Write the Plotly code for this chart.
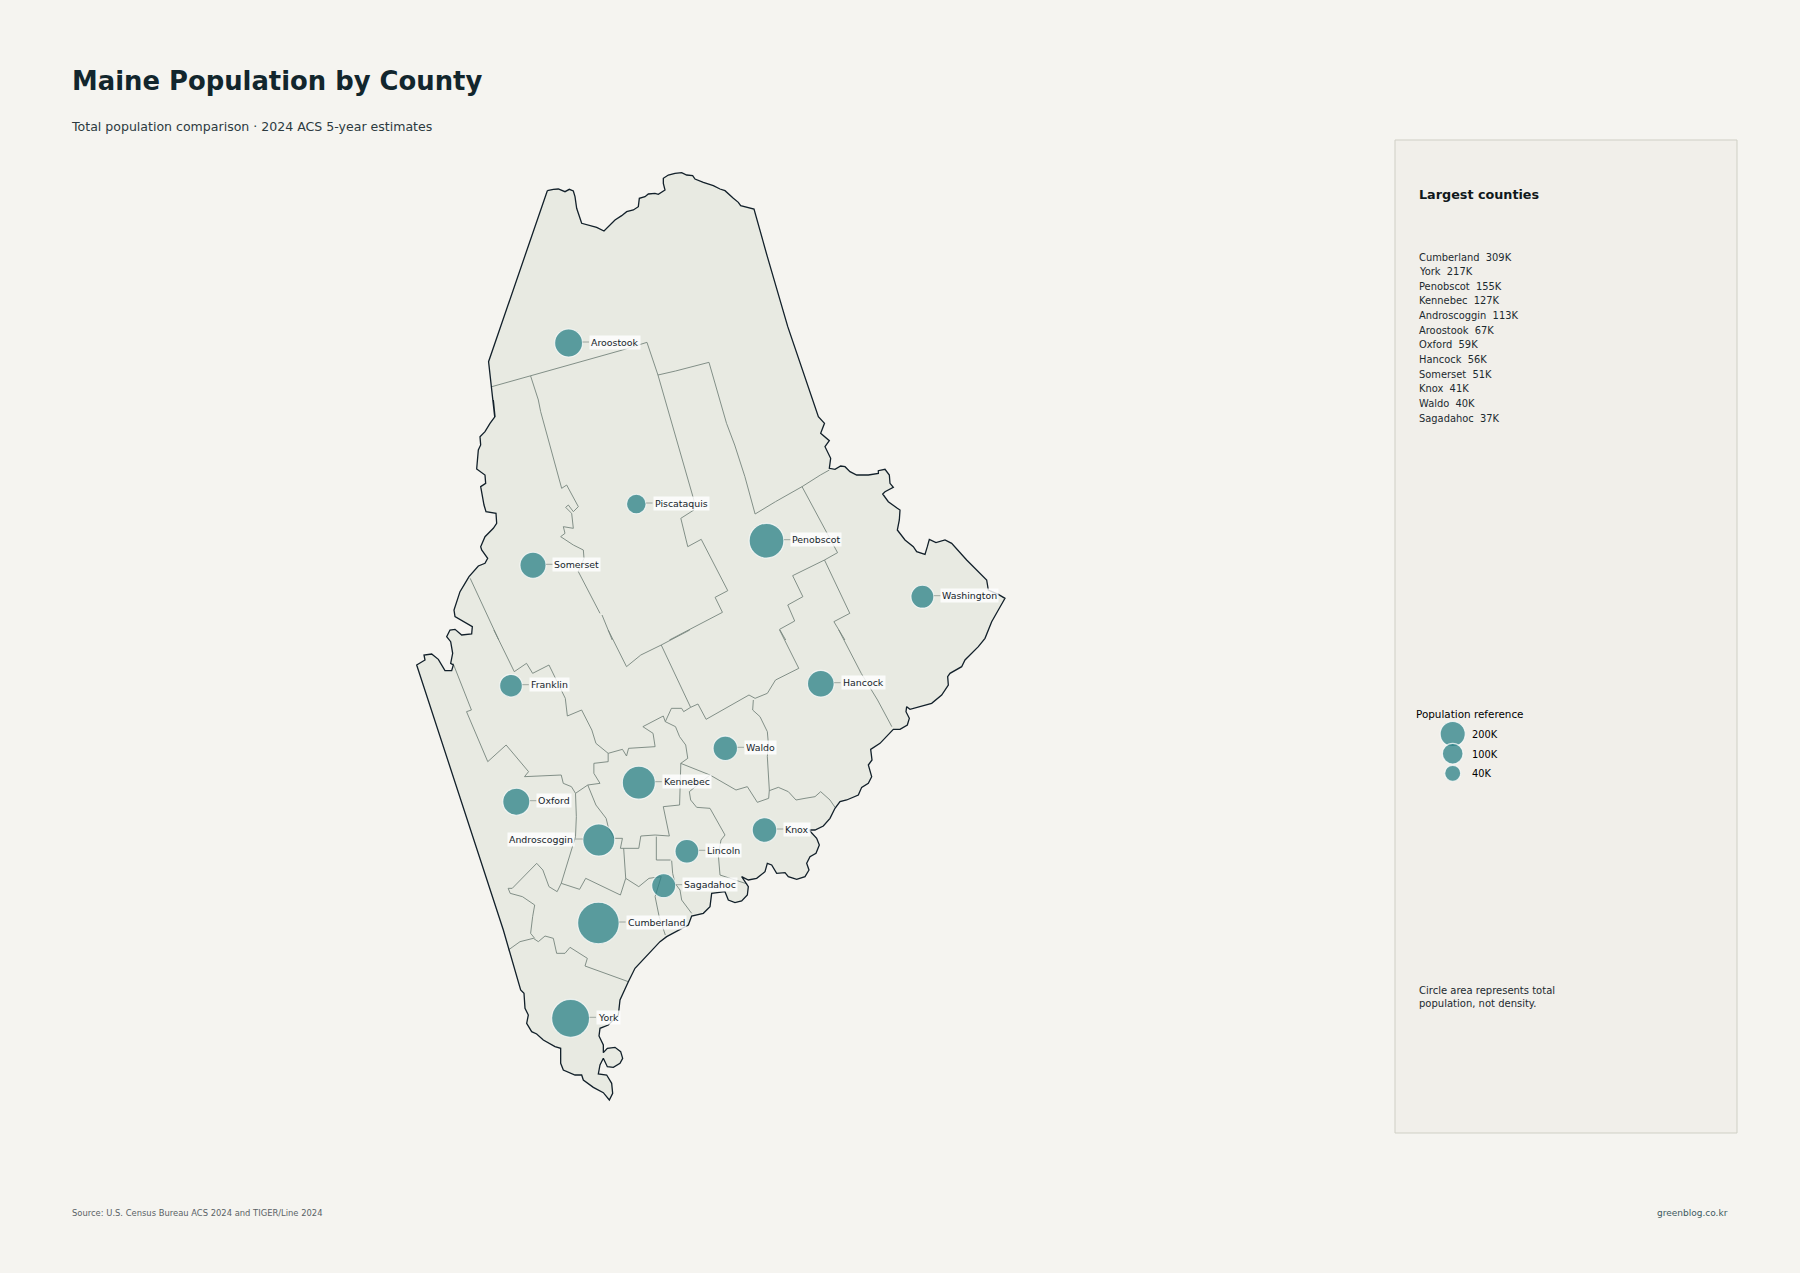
import plotly.graph_objects as go

counties = ["Aroostook", "Piscataquis", "Penobscot", "Somerset", "Washington", "Franklin", "Hancock", "Waldo",
            "Kennebec", "Oxford", "Androscoggin", "Knox", "Lincoln", "Sagadahoc", "Cumberland", "York"]
population_k = [67, 17, 155, 51, 31, 30, 56, 40, 127, 59, 113, 41, 36, 37, 309, 217]
centroid_x = [568.6, 636.3, 766.5, 533, 922.4, 511, 820.8, 725.3, 638.8, 516.3, 598.8, 764.5, 686.9, 663.7, 598.4, 570.6]
centroid_y = [343, 504, 540.7, 565.3, 596.7, 685.7, 683.7, 748.3, 782.7, 801.7, 840, 830, 851.3, 885.7, 923, 1018.3]

top_names = ["Cumberland", "York", "Penobscot", "Kennebec", "Androscoggin", "Aroostook", "Oxford", "Hancock",
             "Somerset", "Knox", "Waldo", "Sagadahoc"]
top_values = ["309K", "217K", "155K", "127K", "113K", "67K", "59K", "56K", "51K", "41K", "40K", "37K"]

ref_k = [200, 100, 40]
ref_labels = ["200K", "100K", "40K"]
ref_x = [1452.7, 1452.7, 1452.7]
ref_y = [734, 753.7, 773.3]

coast_top = [
    (52, 77), (70, 73), (85, 72), (105, 80), (118, 73), (130, 78), (135, 95), (140, 130), (155, 175), (180, 182),
    (200, 187), (222, 198), (240, 180), (255, 165), (275, 152), (290, 140), (310, 135), (325, 125), (328, 100), (345, 95),
    (355, 87), (375, 85), (385, 88), (405, 75), (400, 55), (400, 40), (415, 30), (435, 25), (455, 23), (470, 30), (488, 32),
    (495, 42), (520, 52), (550, 62), (570, 72), (585, 77), (610, 100), (625, 112), (632, 122), (672, 132),
]
line_ne = [(900, 290), (950, 500), (1025, 770), (1040, 790)]
coast_east = [
    (32, 10), (58, 32), (45, 50), (62, 85), (58, 115), (75, 118), (92, 108), (105, 110), (120, 125), (140, 135), (175, 135),
    (205, 130), (205, 122), (225, 118), (238, 135), (240, 160), (250, 172), (225, 185), (218, 192), (235, 215), (262, 235),
    (270, 240), (268, 270), (262, 300), (285, 330), (310, 350), (320, 365), (345, 373), (352, 350), (358, 328), (378, 338),
    (405, 330), (425, 340), (470, 390), (530, 450), (535, 480), (565, 493), (585, 505), (565, 540), (545, 575), (525, 625),
    (505, 650), (465, 690), (455, 710), (420, 730), (413, 740), (415, 765), (395, 795), (365, 820), (330, 830), (300, 838),
    (290, 830), (288, 845), (298, 865), (292, 885), (270, 898), (250, 898),
]
coast_mid = [
    (660, 130), (632, 148), (636, 180), (625, 195), (635, 230), (625, 250), (605, 262), (595, 285), (560, 300), (540, 305),
    (525, 325), (510, 355), (490, 378), (465, 390), (447, 390), (470, 415), (478, 435), (468, 460), (450, 470), (440, 490),
    (447, 510), (435, 530), (410, 538), (385, 530), (375, 518), (350, 520), (335, 495), (322, 490), (315, 515), (290, 535),
    (265, 540), (245, 530), (265, 560), (262, 585), (245, 603), (225, 608), (205, 600), (195, 575), (155, 580), (150, 620),
    (130, 640), (95, 648), (85, 675), (50, 695), (20, 710),
]
coast_south = [
    (480, 35), (405, 115), (385, 155), (360, 210), (355, 255), (325, 285), (300, 295), (297, 318), (310, 345), (310, 368),
    (322, 355), (345, 352), (362, 365), (368, 385), (360, 400), (340, 412), (322, 410), (310, 385), (300, 405), (295, 432),
    (320, 435), (335, 460), (338, 490), (328, 510), (310, 488), (280, 472), (250, 450), (245, 435), (225, 435), (190, 420),
    (182, 400), (182, 355), (165, 350), (130, 330), (110, 312), (95, 305), (80, 280), (85, 255), (75, 235), (72, 190),
    (62, 180), (10, 0),
]
river_west = [
    (20, 795), (45, 780), (42, 765), (65, 762), (85, 778), (95, 795), (105, 812), (125, 812), (130, 795), (122, 790),
    (128, 760), (122, 725), (110, 710), (120, 690), (135, 688), (155, 705), (185, 702), (187, 680), (170, 670), (150, 660),
    (135, 650), (132, 630), (140, 605), (150, 575), (165, 550), (177, 530), (205, 498), (225, 490), (233, 475), (215, 450),
    (212, 440), (225, 410), (250, 385), (260, 370), (258, 340), (228, 335), (222, 315), (215, 280), (212, 260), (227, 250),
    (225, 225), (200, 207), (205, 150), (212, 135), (210, 110), (225, 95), (240, 70), (255, 50), (250, 0),
]
line_nw = [(232, 770), (217, 605)]

borders_north = [
    [(225, 680), (320, 648), (545, 570), (605, 547), (632, 645), (675, 633), (757, 607), (800, 790), (820, 855), (845, 950),
     (870, 1062), (920, 1025), (985, 980), (1030, 945), (1052, 930)],
    [(632, 645), (720, 1020), (720, 1050), (688, 1075), (705, 1160), (738, 1138), (803, 1292), (772, 1312), (790, 1357),
     (660, 1440)],
    [(985, 980), (1072, 1178), (1040, 1200), (962, 1247), (987, 1310), (950, 1335), (967, 1383), (930, 1408), (945, 1440)],
    [(1040, 1200), (1102, 1360), (1063, 1385), (1090, 1440)],
    [(172, 1255), (203, 1335), (242, 1440)],
    [(320, 648), (339, 720)],
    [(495, 1365), (520, 1440)],
]
border_piscataquis_west = [
    (385, 0), (392, 35), (455, 265), (470, 255), (505, 320), (490, 335), (475, 315), (467, 322), (485, 340), (490, 385),
    (460, 380), (465, 400), (452, 410), (490, 435), (520, 450), (522, 475), (505, 515), (570, 640),
]
borders_south = [
    [(510, 0), (555, 110), (590, 75), (640, 45), (710, 0)],
    [(930, 0), (977, 115), (920, 150), (900, 190), (870, 205), (855, 195), (750, 268), (730, 222), (712, 232), (640, 45)],
    [(1075, 0), (1130, 130), (1170, 210), (1205, 290)],
    [(230, 0), (280, 125), (310, 100), (325, 130), (365, 105), (405, 205), (410, 258), (445, 240), (470, 300), (480, 340),
     (510, 370), (545, 358), (555, 378), (560, 355), (625, 350), (620, 310), (595, 290), (645, 258), (650, 275), (665, 235),
     (690, 235), (695, 245), (712, 232)],
    [(510, 370), (510, 395), (475, 400), (475, 430), (490, 460), (460, 465), (430, 490)],
    [(130, 100), (175, 240), (163, 245), (215, 395), (260, 345), (315, 425), (305, 440), (395, 435), (400, 460), (420, 470),
     (430, 490), (432, 560), (430, 620), (395, 760), (385, 785), (365, 770), (350, 720), (335, 700), (275, 775), (265, 775),
     (270, 790), (300, 800), (330, 825), (325, 860), (320, 910), (330, 925)],
    [(395, 760), (440, 778), (455, 745), (540, 795), (553, 745), (548, 655)],
    [(460, 465), (480, 525), (505, 565), (510, 590), (525, 625), (545, 625), (540, 655), (585, 655), (590, 618), (625, 615),
     (660, 618), (645, 530), (685, 525), (688, 400), (705, 385), (700, 345), (685, 320), (675, 290), (650, 275)],
    [(628, 620), (628, 690), (663, 690)],
    [(553, 745), (585, 770), (610, 745), (640, 740), (625, 800), (635, 860), (650, 915)],
]
borders_mid = [
    [(280, 0), (278, 30), (300, 50), (322, 95), (325, 130), (322, 170), (328, 270), (326, 295), (292, 307), (262, 260),
     (228, 270), (150, 225), (62, 190)],
    [(328, 272), (355, 262), (385, 275), (408, 300), (435, 295), (465, 290), (482, 275), (510, 300), (525, 322)],
    [(150, 225), (88, 275), (92, 300), (110, 322), (150, 325), (175, 370), (195, 405), (183, 420), (175, 465), (180, 525),
     (245, 545), (262, 552)],
    [(35, 482), (38, 520), (45, 550), (60, 570), (65, 600), (95, 640)],
]
border_york = [
    (25, 60), (60, 35), (100, 25), (115, 35), (135, 18), (160, 25), (170, 70), (195, 70), (210, 52), (262, 85), (255, 108),
    (385, 155),
]


def traced(pts, x0, y0, sx=3.0, sy=3.0):
    # crop coordinates to page pixels
    return [(x0 + x / sx, y0 + y / sy) for x, y in pts]


def north(pts):
    return traced(pts, 400, 160, sx=2.45)


def south(pts):
    return traced(pts, 400, 630, sx=2.45)


def page_x(px):
    return px / 1800


def page_y(py):
    return 1 - py / 1273


outline = (traced(coast_top, 530, 165) + north(line_ne) + traced(coast_east, 810, 430) + traced(coast_mid, 660, 700)
           + traced(coast_south, 500, 930) + traced(river_west, 410, 400) + north(line_nw))
outline.append(outline[0])

segments = [north(s) for s in borders_north] + [south(s) for s in borders_south]
segments += [traced(s, 660, 700) for s in borders_mid]
segments += [traced(border_piscataquis_west, 410, 400), traced(border_york, 500, 930)]
border_x, border_y = [], []
for seg in segments:
    border_x += [p[0] for p in seg] + [None]
    border_y += [p[1] for p in seg] + [None]

sizes = [41.5 * (p / 309) ** 0.26 for p in population_k]
ref_sizes = [25 * (p / 200) ** 0.28 for p in ref_k]

fig = go.Figure()
fig.add_trace(go.Scatter(x=[p[0] for p in outline], y=[p[1] for p in outline], mode="lines", fill="toself",
                         fillcolor="#e8eae2", line=dict(color="#e8eae2", width=0), hoverinfo="skip"))
fig.add_trace(go.Scatter(x=border_x, y=border_y, mode="lines", line=dict(color="#76847d", width=0.9), hoverinfo="skip"))
fig.add_trace(go.Scatter(x=[p[0] for p in outline], y=[p[1] for p in outline], mode="lines",
                         line=dict(color="#12202a", width=1.3), hoverinfo="skip"))
fig.add_trace(go.Scatter(x=centroid_x, y=centroid_y, mode="markers", text=counties, hoverinfo="text",
                         marker=dict(size=sizes, color="rgba(42,128,134,0.75)", opacity=1,
                                     line=dict(color="rgba(255,255,255,0.75)", width=1.1))))
fig.add_trace(go.Scatter(x=ref_x, y=ref_y, mode="markers", hoverinfo="skip",
                         marker=dict(size=ref_sizes, color="rgba(42,128,134,0.75)", opacity=1,
                                     line=dict(color="rgba(255,255,255,0.75)", width=1.1))))

# county labels with a short leader
for name, x, y, d in zip(counties, centroid_x, centroid_y, sizes):
    left = name == "Androscoggin"
    fig.add_annotation(x=x, y=y, xref="x", yref="y", text=name, showarrow=True, arrowhead=0, arrowwidth=0.8,
                       arrowcolor="#8a958f", standoff=d / 2, ax=-(d / 2 + 8) if left else d / 2 + 6.5, ay=0,
                       xanchor="right" if left else "left", yanchor="middle", borderpad=1, yshift=1,
                       bgcolor="rgba(255,255,255,0.82)", font=dict(size=9.4, color="#15242a"))


def note(px, py, text, size, color, bold=False, anchor="left"):
    fig.add_annotation(x=page_x(px), y=page_y(py), xref="paper", yref="paper", text=f"<b>{text}</b>" if bold else text,
                       showarrow=False, xanchor=anchor, yanchor="middle", align="left",
                       font=dict(size=size, color=color), borderpad=0, borderwidth=0)


note(72, 81.5, "Maine Population by County", 25.85, "#12262d", bold=True)
note(71, 126.5, "Total population comparison · 2024 ACS 5-year estimates", 12.55, "#2c3a3f")
note(1419, 194.5, "Largest counties", 12.75, "#10181b", bold=True)
for i, (n, v) in enumerate(zip(top_names, top_values)):
    note(1419, 257 + i * 14.65, f"{n}\u00a0\u00a0{v}", 9.9, "#1c2a2f")
note(1416, 714, "Population reference", 10.4, "#000000")
for yy, lab in zip([734.5, 754, 773.3], ref_labels):
    note(1472, yy, lab, 9.8, "#000000")
note(1419, 996.5, "Circle area represents total<br>population, not density.", 10, "#1c2a2f")
note(72, 1212.5, "Source: U.S. Census Bureau ACS 2024 and TIGER/Line 2024", 8.4, "#5a6266")
note(1728, 1212.5, "greenblog.co.kr", 9, "#3d5a5f", anchor="right")

fig.add_shape(type="rect", xref="paper", yref="paper", layer="below", x0=page_x(1395), x1=page_x(1737),
              y0=page_y(1133), y1=page_y(140), fillcolor="#f1efea", line=dict(color="#cfcfc5", width=1))

fig.update_layout(width=1800, height=1273, margin=dict(l=0, r=0, t=0, b=0), showlegend=False,
                  paper_bgcolor="#f5f4f0", plot_bgcolor="rgba(0,0,0,0)",
                  font=dict(family="DejaVu Sans"),
                  xaxis=dict(visible=False, range=[0, 1800], fixedrange=True),
                  yaxis=dict(visible=False, range=[1273, 0], fixedrange=True))

fig.write_html("out.html", config=dict(displayModeBar=False), post_script="document.body.style.margin='0';")
